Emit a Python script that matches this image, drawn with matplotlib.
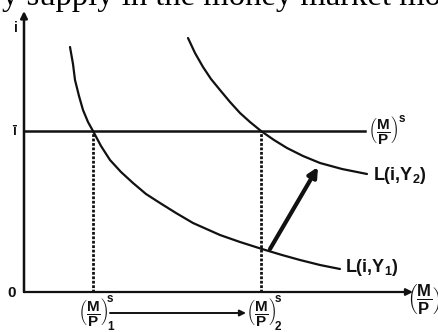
import matplotlib
matplotlib.use("Agg")
import matplotlib.pyplot as plt
import numpy as np

plt.rcParams['font.family'] = ['Liberation Sans', 'DejaVu Sans']
plt.rcParams['mathtext.fontset'] = 'custom'
plt.rcParams['mathtext.rm'] = 'Liberation Sans:bold'
plt.rcParams['mathtext.bf'] = 'Liberation Sans:bold'
plt.rcParams['mathtext.it'] = 'Liberation Sans:bold'

# money demand curves (real balances, interest rate)
y1_m = [46, 49, 51, 55, 59, 64, 69, 77, 86, 97, 109, 122, 136, 152, 169, 196, 216, 238, 258, 276, 296, 316]
y1_i = [245, 228, 212, 196, 182, 170, 161, 146, 132, 120, 109, 98, 89, 79, 69, 57, 50, 43, 37, 32, 27, 23]
y2_m = [164, 171, 179, 187, 196, 206, 216, 226, 237, 250, 263, 279, 296, 318, 343]
y2_i = [254, 239, 225, 213, 202, 190, 179, 170, 161, 152, 144, 136, 129, 123, 118]

i_bar = 161          # fixed interest rate
m_supply = [69, 237]  # real money supply before / after
shift_from = (246, 43)
shift_to = (294, 125)

fig = plt.figure(figsize=(4.38, 3.32), dpi=100)
ax = fig.add_axes([0, 0, 1, 1])
ax.set_xlim(-24, 414)
ax.set_ylim(-40, 292)
ax.axis('off')

ink = '#111111'

# axes with arrowheads
ax.annotate('', xy=(0, 281), xytext=(0, 0),
            arrowprops=dict(arrowstyle='-|>', color=ink, lw=1.8, mutation_scale=10, shrinkA=0, shrinkB=0))
ax.annotate('', xy=(389, 0), xytext=(0, 0),
            arrowprops=dict(arrowstyle='-|>', color=ink, lw=1.6, mutation_scale=10, shrinkA=0, shrinkB=0))

ax.plot(y1_m, y1_i, color=ink, lw=1.6, solid_capstyle='round')
ax.plot(y2_m, y2_i, color=ink, lw=1.6, solid_capstyle='round')

# money supply line at the fixed rate
ax.plot([0, 341], [i_bar, i_bar], color=ink, lw=1.8)

for m in m_supply:
    ax.plot([m, m], [0, i_bar], color=ink, lw=2.0, linestyle=(0, (1, 0.6)))

# demand shift arrow
ax.annotate('', xy=shift_to, xytext=shift_from,
            arrowprops=dict(arrowstyle='-|>', color=ink, lw=3.0, mutation_scale=14,
                            shrinkA=0, shrinkB=0, fill=False))

# shift in supply along the horizontal axis
ax.annotate('', xy=(m_supply[1] - 15, -21), xytext=(m_supply[0] + 17, -21),
            arrowprops=dict(arrowstyle='-|>', color=ink, lw=1.4, mutation_scale=9, shrinkA=0, shrinkB=0))

bold = dict(color=ink, fontweight='bold')
ax.text(-8, 264, 'i', fontsize=10, ha='center', va='center', **bold)
ax.text(-10, i_bar, '\u012b', fontsize=10, ha='center', va='center', **bold)
ax.text(-12, -1, '0', fontsize=11, ha='center', va='center', **bold)

frac = r'$\left(\dfrac{M}{P}\right)$'
ax.text(344, i_bar, frac, fontsize=11, ha='left', va='center', color=ink)
ax.text(375, i_bar + 12, 's', fontsize=8.5, ha='left', va='center', **bold)

ax.text(349, 117, 'L(i,Y$_{2}$)', fontsize=13, ha='left', va='center', **bold)
ax.text(321, 25, 'L(i,Y$_{1}$)', fontsize=13, ha='left', va='center', **bold)

for k, m in enumerate(m_supply, start=1):
    ax.text(m - 15, -20, frac, fontsize=11, ha='left', va='center', color=ink)
    ax.text(m + 14, -7, 's', fontsize=8.5, ha='left', va='center', **bold)
    ax.text(m + 14, -35, str(k), fontsize=8.5, ha='left', va='center', **bold)

ax.text(383, -7, frac, fontsize=12, ha='left', va='center', color=ink)

# running text from the page above the diagram
fig.text(2, 332 - 5, 'y supply in the money market mo', transform=None,
         fontsize=23.5, family='Liberation Serif', ha='left', va='baseline', color='black')

fig.savefig('out.png', dpi=100)
